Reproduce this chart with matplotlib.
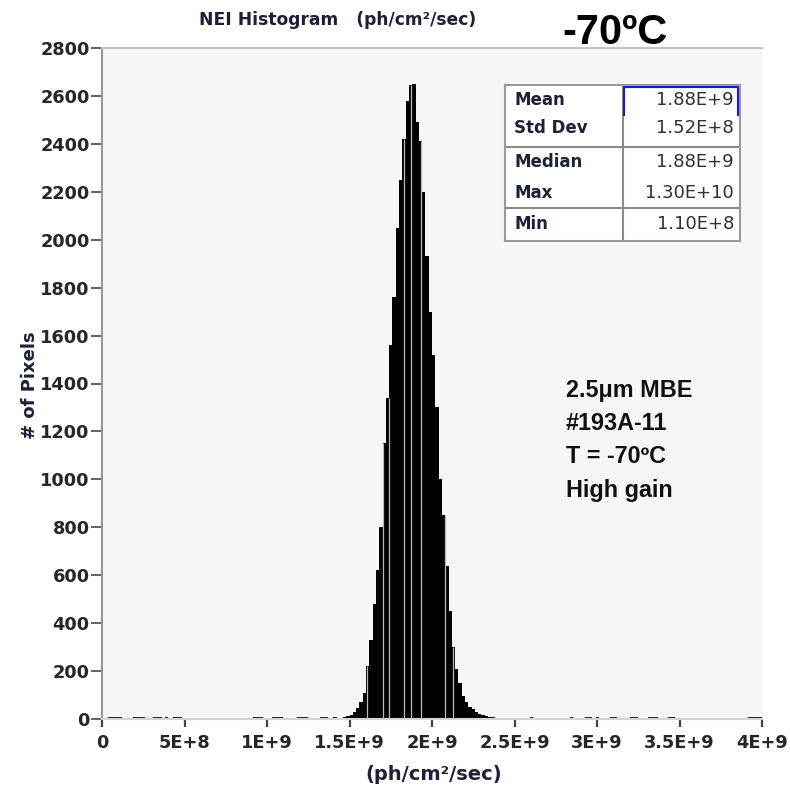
import matplotlib
matplotlib.use('Agg')
import matplotlib.pyplot as plt
import numpy as np

# ---------------- data (x in units of 1e9 ph/cm^2/sec) ----------------
bin_width = 0.02
bin_left = [1.44, 1.46, 1.48, 1.50, 1.52, 1.54, 1.56, 1.58, 1.60, 1.62,
            1.64, 1.66, 1.68, 1.70, 1.72, 1.74, 1.76, 1.78, 1.80, 1.82,
            1.84, 1.86, 1.88, 1.90, 1.92, 1.94, 1.96, 1.98, 2.00, 2.02,
            2.04, 2.06, 2.08, 2.10, 2.12, 2.14, 2.16, 2.18, 2.20, 2.22,
            2.24, 2.26, 2.28, 2.30, 2.32, 2.34, 2.36, 2.38, 2.40]
counts = [6, 8, 12, 18, 28, 45, 70, 110, 220, 330,
          480, 620, 800, 1150, 1340, 1560, 1760, 2050, 2250, 2420,
          2580, 2645, 2650, 2490, 2410, 2200, 1930, 1700, 1520, 1300,
          1000, 850, 640, 450, 300, 210, 150, 95, 70, 52,
          40, 30, 22, 16, 12, 9, 7, 6, 5]

# sparse low-count pixels along the baseline (start, end)
tail_start = [0.036, 0.188, 0.309, 0.382, 0.430, 0.915, 1.030, 1.180, 1.321, 1.400,
              2.594, 2.836, 2.927, 2.995, 3.079, 3.200, 3.309, 3.430, 3.915]
tail_end = [0.121, 0.261, 0.364, 0.400, 0.485, 0.976, 1.097, 1.248, 1.370, 1.424,
            2.610, 2.855, 2.970, 3.010, 3.121, 3.248, 3.370, 3.470, 4.000]
tail_count = 10

# light rendering gaps visible inside the peak
gap_x = [1.606, 1.703, 1.739, 1.830, 1.873, 1.933, 2.079, 2.127]

x_ticks = [0, 0.5, 1.0, 1.5, 2.0, 2.5, 3.0, 3.5, 4.0]
x_tick_labels = ['0', '5E+8', '1E+9', '1.5E+9', '2E+9', '2.5E+9', '3E+9', '3.5E+9', '4E+9']
y_ticks = list(range(0, 2801, 200))

stat_names = ['Mean', 'Std Dev', 'Median', 'Max', 'Min']
stat_values = ['1.88E+9', '1.52E+8', '1.88E+9', '1.30E+10', '1.10E+8']

info_lines = ['2.5\u03bcm MBE', '#193A-11', 'T = -70\u00baC', 'High gain']

# ---------------- figure ----------------
W, H = 790, 789
fig = plt.figure(figsize=(W / 100, H / 100), dpi=100)
fig.patch.set_facecolor('white')


def fx(px):
    return px / W


def fy(py):
    return 1 - py / H


ax = fig.add_axes([fx(102), fy(719), fx(762) - fx(102), fy(48) - fy(719)])
ax.set_facecolor('#f6f6f6')

edges = np.append(np.array(bin_left), bin_left[-1] + bin_width)
cnt = np.array(counts)
ax.stairs(cnt, edges, fill=True, color='black', zorder=2)

ts = np.array(tail_start)
te = np.array(tail_end)
ax.bar(ts, [tail_count] * len(ts), width=te - ts, align='edge', color='#222222',
       linewidth=0, zorder=2)

gap_h = [cnt[np.searchsorted(edges, g, side='right') - 1] for g in gap_x]
ax.vlines(gap_x, 0, gap_h, color='#b8b8b8', lw=0.9, zorder=3)

ax.set_xlim(0, 4.0)
ax.set_ylim(0, 2800)
ax.set_xticks(x_ticks)
ax.set_xticklabels(x_tick_labels)
ax.set_yticks(y_ticks)
ax.set_yticklabels([str(v) for v in y_ticks])

for lbl in ax.get_xticklabels() + ax.get_yticklabels():
    lbl.set_fontfamily('DejaVu Sans')
    lbl.set_fontweight('bold')
    lbl.set_fontsize(12.8)
    lbl.set_color('#262626')

ax.tick_params(axis='y', direction='out', length=8, width=1.3, color='#555555', pad=1)
ax.tick_params(axis='x', direction='out', length=6, width=1.6, color='#444444', pad=5)

ax.spines['right'].set_visible(False)
ax.spines['top'].set_color('#c4c4c4')
ax.spines['top'].set_linewidth(1.5)
ax.spines['left'].set_color('#8c8c8c')
ax.spines['left'].set_linewidth(1.3)
ax.spines['bottom'].set_color('#d4d4d4')
ax.spines['bottom'].set_linewidth(1.5)

# axis labels and title
fig.text(fx(434), fy(775), '(ph/cm\u00b2/sec)', ha='center', va='center',
         fontsize=14, fontweight='bold', color='#1c2038', family='DejaVu Sans')
fig.text(fx(30), fy(385), '# of Pixels', ha='center', va='center', rotation=90,
         fontsize=13, fontweight='bold', color='#1c2038', family='DejaVu Sans')
fig.text(fx(338), fy(20), 'NEI Histogram   (ph/cm\u00b2/sec)', ha='center', va='center',
         fontsize=12.3, fontweight='bold', color='#1c2038', family='DejaVu Sans')

# big temperature label
fig.text(fx(615), fy(44), '-70\u00baC', ha='center', va='baseline',
         fontsize=30, fontweight='bold', color='black',
         family=['Liberation Sans Narrow', 'Liberation Sans', 'DejaVu Sans'])

# info text
baselines = [397, 430, 463, 497]
for line, b in zip(info_lines, baselines):
    fig.text(fx(566), fy(b), line, ha='left', va='baseline', fontsize=16.8,
             fontweight='bold', color='#111111', family=['Liberation Sans', 'DejaVu Sans'])

# statistics table
tax = fig.add_axes([fx(505), fy(241), fx(740) - fx(505), fy(85) - fy(241)])
tax.set_xlim(505, 740)
tax.set_ylim(241, 85)
tax.set_facecolor('white')
tax.set_xticks([])
tax.set_yticks([])
for s in tax.spines.values():
    s.set_color('#9a9a9a')
    s.set_linewidth(1.5)
tax.plot([623, 623], [85, 241], color='#8a8a8a', lw=1.5)
tax.plot([505, 740], [147, 147], color='#8a8a8a', lw=1.5)
tax.plot([505, 740], [208, 208], color='#8a8a8a', lw=1.5)
tax.plot([623.5, 623.5, 738, 738], [115, 87, 87, 115], color='#1515ee', lw=1.5)

row_y = [100, 128, 162, 193, 224]
for name, val, yy in zip(stat_names, stat_values, row_y):
    tax.text(514, yy, name, ha='left', va='center', fontsize=12, fontweight='bold',
             color='#1c2038', family='DejaVu Sans')
    tax.text(734, yy, val, ha='right', va='center', fontsize=13,
             color='#303030', family='DejaVu Sans')

fig.savefig('out.png', dpi=100, facecolor='white')
